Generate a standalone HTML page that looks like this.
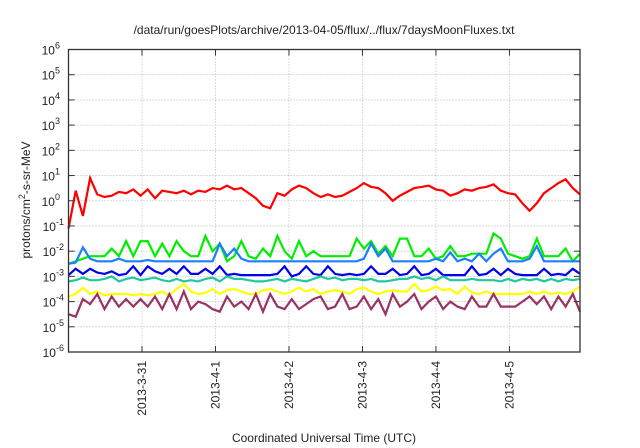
<!DOCTYPE html>
<html><head><meta charset="utf-8"><style>
html,body{margin:0;padding:0;background:#fff;}
svg{display:block;font-family:"Liberation Sans",sans-serif;}
</style></head><body>
<svg id="chart" width="640" height="448" viewBox="0 0 640 448" xmlns="http://www.w3.org/2000/svg">
<text x="324" y="34" font-size="12" text-anchor="middle" fill="#222">/data/run/goesPlots/archive/2013-04-05/flux/../flux/7daysMoonFluxes.txt</text>
<text transform="translate(30,200) rotate(-90)" font-size="12" text-anchor="middle" fill="#222">protons/cm<tspan dy="-5" font-size="9">2</tspan><tspan dy="5">-s-sr-MeV</tspan></text>
<text x="324" y="442" font-size="12" text-anchor="middle" fill="#222">Coordinated Universal Time (UTC)</text>
<g id="grid"></g>
<g id="series"></g>
<rect x="68.5" y="49.5" width="511.5" height="302.5" fill="none" stroke="#333" stroke-width="1.3"/>
<g id="axes"></g>
</svg>
<script>
const yTickExps = [-6,-5,-4,-3,-2,-1,0,1,2,3,4,5,6];
const xTickDays = [1,2,3,4,5,6];
const xTickLabels = ["2013-3-31","2013-4-1","2013-4-2","2013-4-3","2013-4-4","2013-4-5"];
const dayRange = [0,6.96];
const seriesNames = ["red","green","lightblue","blue","teal","yellow","purple"];
const seriesColors = ["#ff0000","#00ee00","#1a80ff","#0000ee","#20c8a0","#ffff00","#993366"];
const redVals = [-1.1,0.4,-0.6,0.9,0.25,0.15,0.2,0.35,0.3,0.45,0.2,0.45,0.1,0.4,0.35,0.3,0.4,0.25,0.4,0.35,0.5,0.45,0.6,0.45,0.5,0.3,0.1,-0.2,-0.3,0.3,0.2,0.45,0.6,0.5,0.3,0.15,0.25,0.15,0.2,0.35,0.5,0.7,0.55,0.5,0.3,0.0,0.2,0.35,0.5,0.55,0.6,0.45,0.4,0.2,0.3,0.45,0.4,0.5,0.55,0.65,0.4,0.3,0.25,-0.1,-0.4,-0.1,0.3,0.5,0.7,0.85,0.5,0.25];
const greenVals = [-2.5,-2.4,-2.3,-2.2,-2.2,-2.2,-1.9,-2.2,-1.6,-2.2,-1.6,-1.6,-2.2,-1.7,-2.2,-1.6,-2.0,-2.2,-2.2,-1.4,-2.0,-1.7,-2.4,-2.2,-1.6,-2.2,-2.3,-1.9,-2.2,-1.4,-2.0,-2.3,-1.6,-2.2,-2.0,-2.2,-2.2,-2.2,-2.2,-2.2,-1.5,-1.9,-1.6,-2.1,-1.8,-2.2,-1.5,-1.5,-2.2,-2.2,-1.9,-2.3,-2.2,-1.8,-2.2,-2.2,-2.1,-2.1,-2.1,-1.3,-1.5,-2.1,-2.2,-2.3,-2.2,-1.5,-2.2,-2.2,-2.2,-1.9,-2.4,-2.1];
const lightBlueVals = [-2.5,-2.45,-1.85,-2.3,-2.4,-2.4,-2.4,-2.3,-2.4,-2.4,-2.4,-2.35,-2.4,-2.4,-2.4,-2.4,-2.4,-2.4,-2.4,-2.4,-2.4,-1.7,-2.2,-1.9,-2.3,-2.4,-2.4,-2.4,-2.4,-2.4,-2.4,-2.4,-2.4,-2.4,-2.4,-2.4,-2.4,-2.4,-2.4,-2.4,-2.4,-2.3,-1.7,-2.2,-1.9,-2.4,-2.4,-2.4,-2.4,-2.4,-2.4,-2.3,-2.4,-2.05,-2.4,-2.3,-2.4,-2.1,-2.4,-2.1,-1.9,-2.4,-2.4,-2.4,-2.3,-1.8,-2.4,-2.4,-2.4,-2.4,-2.4,-2.4];
const blueVals = [-2.95,-2.7,-2.9,-2.7,-2.85,-2.9,-2.8,-2.95,-2.9,-2.6,-2.95,-2.6,-2.8,-2.9,-2.7,-2.9,-2.6,-2.9,-2.9,-2.7,-2.9,-2.6,-2.95,-2.9,-2.95,-2.95,-2.95,-2.95,-2.95,-2.9,-2.6,-3.0,-2.9,-2.6,-2.9,-2.95,-2.6,-2.9,-2.95,-2.9,-2.95,-2.9,-2.6,-2.9,-2.9,-2.7,-2.95,-2.9,-2.6,-2.95,-2.9,-2.7,-2.95,-2.95,-2.95,-2.95,-2.6,-2.95,-2.9,-2.7,-2.95,-2.7,-2.9,-2.95,-2.95,-2.95,-2.7,-2.95,-2.9,-2.95,-2.7,-2.9];
const tealVals = [-3.2,-3.15,-3.05,-3.15,-3.15,-3.1,-3.0,-3.2,-3.1,-3.05,-3.15,-3.1,-3.05,-3.15,-3.2,-3.1,-3.2,-3.15,-3.2,-3.1,-3.05,-3.2,-3.0,-3.1,-3.1,-3.15,-3.2,-3.2,-3.15,-3.1,-3.2,-3.1,-3.15,-3.2,-3.1,-3.0,-3.1,-3.05,-3.15,-3.1,-3.1,-3.15,-3.1,-3.2,-3.2,-3.15,-3.1,-3.1,-3.0,-3.1,-3.05,-3.15,-3.0,-3.15,-3.15,-3.15,-3.1,-3.15,-3.15,-3.15,-3.2,-3.1,-3.2,-3.1,-3.15,-3.1,-3.2,-3.1,-3.2,-3.1,-3.15,-3.1];
const yellowVals = [-3.8,-3.7,-3.45,-3.7,-3.6,-3.75,-3.7,-3.7,-3.7,-3.75,-3.7,-3.75,-3.7,-3.6,-3.75,-3.5,-3.3,-3.6,-3.7,-3.65,-3.5,-3.7,-3.55,-3.5,-3.6,-3.7,-3.7,-3.55,-3.5,-3.6,-3.7,-3.6,-3.45,-3.6,-3.5,-3.7,-3.6,-3.55,-3.6,-3.7,-3.5,-3.45,-3.6,-3.7,-3.6,-3.55,-3.6,-3.6,-3.3,-3.6,-3.55,-3.4,-3.55,-3.5,-3.7,-3.4,-3.65,-3.7,-3.6,-3.7,-3.7,-3.7,-3.7,-3.7,-3.6,-3.7,-3.6,-3.7,-3.65,-3.7,-3.6,-3.4];
const purpleVals = [-4.5,-4.6,-3.9,-4.1,-3.7,-4.3,-3.8,-4.2,-3.9,-4.2,-3.9,-4.2,-3.8,-4.3,-3.7,-4.3,-3.6,-4.3,-4.0,-4.1,-4.3,-4.4,-3.8,-4.2,-4.0,-4.3,-3.7,-4.4,-3.7,-4.2,-4.3,-3.9,-4.3,-4.1,-3.9,-3.8,-4.3,-4.2,-3.7,-4.3,-4.2,-3.8,-4.3,-3.9,-4.5,-3.7,-4.2,-4.0,-3.7,-4.3,-4.0,-3.8,-4.3,-4.0,-4.2,-4.3,-3.8,-4.2,-4.2,-3.7,-4.2,-4.2,-4.2,-4.0,-3.8,-4.1,-3.8,-4.3,-3.8,-4.2,-3.7,-4.4];
const allVals = [redVals,greenVals,lightBlueVals,blueVals,tealVals,yellowVals,purpleVals];

const X0=68.5, X1=580, Y0=352, Y1=49.5;
function xScale(d){return X0+(d-dayRange[0])/(dayRange[1]-dayRange[0])*(X1-X0);}
function yScale(e){return Y0-(e-(-6))/12*(Y0-Y1);}
const NS="http://www.w3.org/2000/svg";
function mk(tag,attrs,parent){const el=document.createElementNS(NS,tag);for(const k in attrs)el.setAttribute(k,attrs[k]);parent.appendChild(el);return el;}
const grid=document.getElementById('grid'), axes=document.getElementById('axes'), ser=document.getElementById('series');

yTickExps.forEach(e=>{
  const y=yScale(e);
  if(e>-6&&e<6){const g=mk('line',{x1:X0,x2:X1,y1:y,y2:y,stroke:'#aaa','stroke-width':0.8,'stroke-dasharray':'1,2'},grid);
  
  }
  const t1=mk('line',{x1:X0,x2:X0+6,y1:y,y2:y,stroke:'#333','stroke-width':1},axes);
  
  
  const t2=mk('line',{x1:X1-6,x2:X1,y1:y,y2:y,stroke:'#333','stroke-width':1},axes);
  
  
  const tx=mk('text',{x:57,y:y+5,'font-size':12,'text-anchor':'end',fill:'#222'},axes);
  
  
  tx.textContent='10';
  const sp=mk('tspan',{dy:-6,'font-size':9},tx); sp.textContent=String(e);
  tx.setAttribute('x',String(e).length>1?64:60);
});
xTickDays.forEach((d,i)=>{
  const x=xScale(d);
  const g=mk('line',{x1:x,x2:x,y1:Y1,y2:Y0,stroke:'#aaa','stroke-width':0.8,'stroke-dasharray':'1,2'},grid);
  
  
  const t=mk('line',{x1:x,x2:x,y1:Y0-6,y2:Y0,stroke:'#333','stroke-width':1},axes);
  
  
  const t2=mk('line',{x1:x,x2:x,y1:Y1,y2:Y1+6,stroke:'#333','stroke-width':1},axes);
  
  
  const tx=mk('text',{transform:`translate(${x+4},${Y0+9}) rotate(-90)`,'font-size':12,'text-anchor':'end',fill:'#222'},axes);
  
  
  tx.textContent=xTickLabels[i];
});
allVals.forEach((vals,si)=>{
  const n=vals.length;
  const pts=vals.map((v,i)=>xScale(dayRange[0]+i/(n-1)*(dayRange[1]-dayRange[0])).toFixed(1)+','+yScale(v).toFixed(1)).join(' ');
  const pl=mk('polyline',{points:pts,fill:'none',stroke:seriesColors[si],'stroke-width':2.2,'stroke-linejoin':'miter'},ser);
  
  
});
</script>
</body></html>
